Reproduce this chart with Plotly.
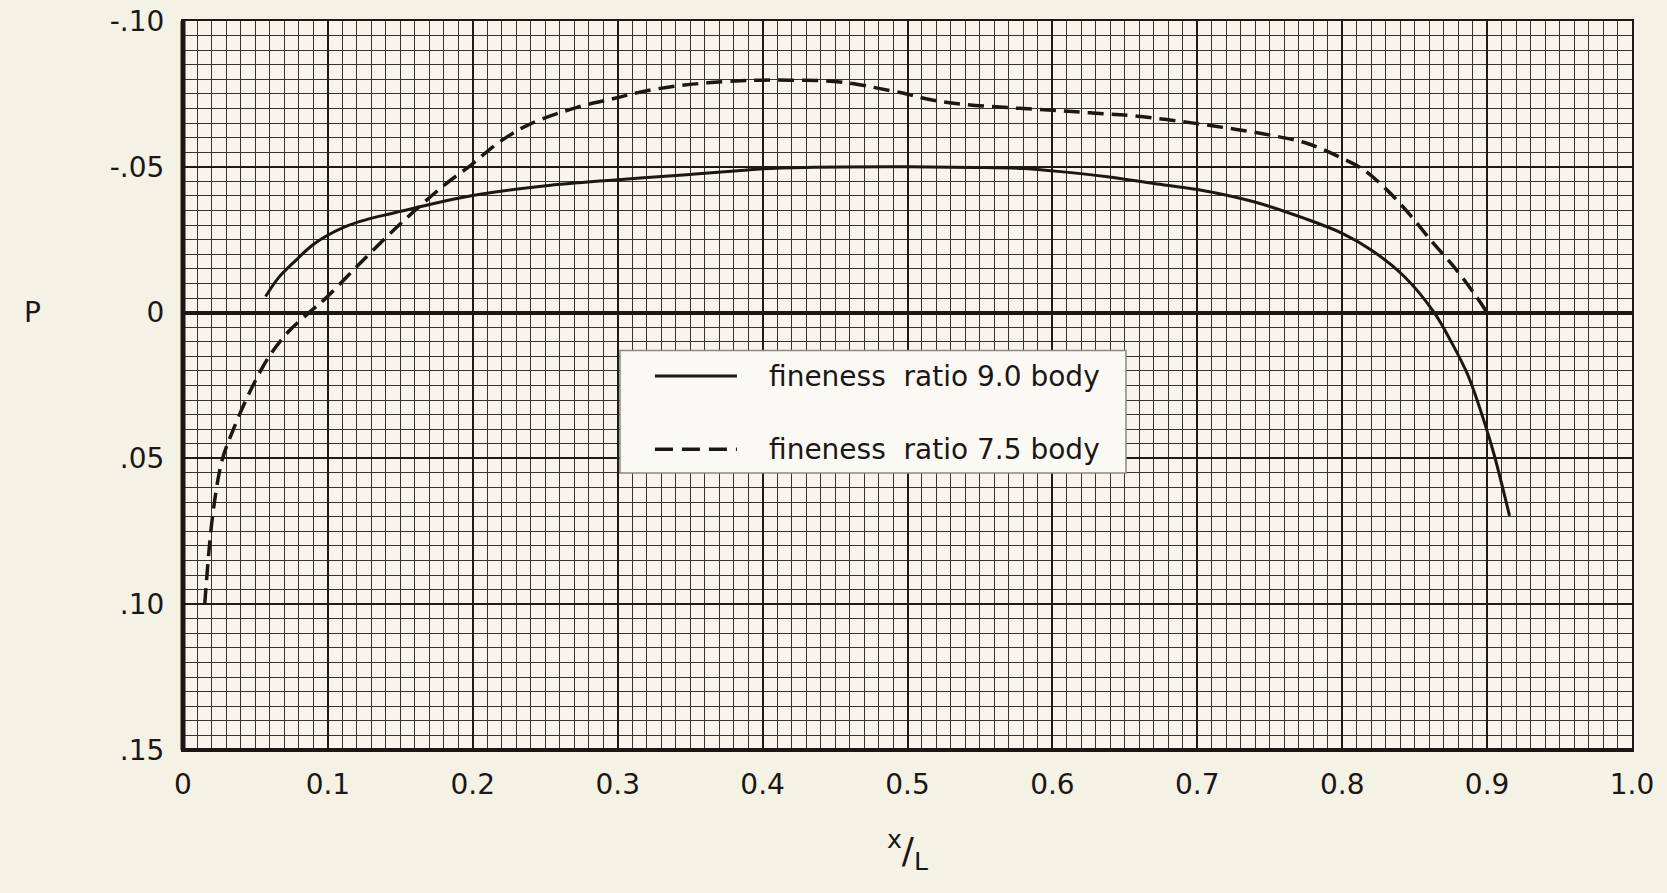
import plotly.graph_objects as go

# ---- data ----
x_fr90 = [0.057, 0.066, 0.078, 0.089, 0.098, 0.112, 0.126, 0.144, 0.165, 0.198, 0.249, 0.298,
          0.350, 0.385, 0.400, 0.430, 0.500, 0.546, 0.580, 0.600, 0.638, 0.670, 0.700, 0.739,
          0.774, 0.800, 0.820, 0.843, 0.8635, 0.875, 0.8866, 0.898, 0.905, 0.9155]
p_fr90 = [-0.0055, -0.012, -0.018, -0.023, -0.026, -0.0295, -0.0318, -0.0340, -0.0365, -0.040, -0.0434, -0.0455,
          -0.0474, -0.0487, -0.0493, -0.0498, -0.0500, -0.0498, -0.0494, -0.0486, -0.0466, -0.0443, -0.0422, -0.038,
          -0.0323, -0.0272, -0.0215, -0.0123, 0.000, 0.0098, 0.0213, 0.0374, 0.049, 0.0697]

x_fr75 = [0.015, 0.0206, 0.027, 0.034, 0.046, 0.0595, 0.073, 0.088, 0.098, 0.121, 0.146, 0.165,
          0.181, 0.199, 0.217, 0.238, 0.272, 0.298, 0.316, 0.339, 0.362, 0.385, 0.400, 0.419,
          0.442, 0.463, 0.481, 0.500, 0.516, 0.537, 0.569, 0.600, 0.626, 0.656, 0.700, 0.727,
          0.751, 0.776, 0.800, 0.815, 0.831, 0.847, 0.863, 0.877, 0.891, 0.900]
p_fr75 = [0.100, 0.069, 0.0506, 0.041, 0.0273, 0.015, 0.0064, -0.0004, -0.0047, -0.0163, -0.0286, -0.0372,
          -0.044, -0.0507, -0.058, -0.0643, -0.0704, -0.0735, -0.0757, -0.0776, -0.0788, -0.0795, -0.0797, -0.0797,
          -0.0795, -0.0785, -0.0768, -0.0749, -0.073, -0.0715, -0.0703, -0.0694, -0.0685, -0.0675, -0.0648, -0.0628,
          -0.0608, -0.058, -0.0529, -0.0489, -0.042, -0.0334, -0.0237, -0.0158, -0.0066, 0.000]

series_names = ["fineness\u00a0\u00a0ratio\u00a09.0\u00a0body", "fineness\u00a0\u00a0ratio\u00a07.5\u00a0body"]

x_tickvals = [0, 0.1, 0.2, 0.3, 0.4, 0.5, 0.6, 0.7, 0.8, 0.9, 1.0]
x_ticktext = ["0", "0.1", "0.2", "0.3", "0.4", "0.5", "0.6", "0.7", "0.8", "0.9", "1.0"]
y_tickvals = [-0.10, -0.05, 0.0, 0.05, 0.10, 0.15]
y_ticktext = ["-.10", "-.05", "0", ".05", ".10", ".15"]

INK = "#1c1714"
PAPER = "#f4f2e4"
FONT = "DejaVu Sans"

fig = go.Figure()
fig.add_trace(go.Scatter(x=x_fr90, y=p_fr90, mode="lines", name=series_names[0],
                         line=dict(color=INK, width=3, shape="spline", smoothing=1.0),
                         showlegend=False))
fig.add_trace(go.Scatter(x=x_fr75, y=p_fr75, mode="lines", name=series_names[1],
                         line=dict(color=INK, width=3.5, dash="16px,8px", shape="spline", smoothing=1.0),
                         showlegend=False))

fig.update_layout(
    width=1667, height=893,
    margin=dict(l=183, r=35, t=21, b=143, autoexpand=False),
    paper_bgcolor=PAPER,
    plot_bgcolor="#f8f4ed",
    font=dict(family=FONT, size=28, color=INK),
    showlegend=False,
)

fig.update_xaxes(
    range=[0, 1.0], tickvals=x_tickvals, ticktext=x_ticktext, automargin=False,
    showgrid=True, gridcolor="#1e1a14", gridwidth=2,
    minor=dict(dtick=0.01, tick0=0, showgrid=True, gridcolor="#35342a", gridwidth=1),
    showline=True, linecolor=INK, linewidth=2, mirror=True,
    zeroline=False, ticks="", ticklabelstandoff=8, ticklabeloverflow="allow",
    tickfont=dict(size=28),
    title=dict(text="<sup>x</sup>/<sub>L</sub>", font=dict(size=36), standoff=38),
)
fig.update_yaxes(
    range=[0.15, -0.10], tickvals=y_tickvals, ticktext=y_ticktext, automargin=False,
    showgrid=True, gridcolor="#1e1a14", gridwidth=2,
    minor=dict(dtick=0.005, tick0=0, showgrid=True, gridcolor="#35342a", gridwidth=1),
    showline=True, linecolor=INK, linewidth=2, mirror=True,
    zeroline=True, zerolinecolor=INK, zerolinewidth=3.5,
    ticks="", ticklabelstandoff=11, ticklabeloverflow="allow",
    tickfont=dict(size=28),
)

# heavier left and bottom frame lines
fig.add_shape(type="line", xref="paper", yref="paper", x0=0, x1=0, y0=0, y1=1,
              line=dict(color=INK, width=5))
fig.add_shape(type="line", xref="paper", yref="paper", x0=0, x1=1, y0=0, y1=0,
              line=dict(color=INK, width=4))

# y label "P"
fig.add_annotation(text="P", xref="paper", yref="y", x=-0.104, y=0, showarrow=False,
                   font=dict(size=28, family=FONT, color=INK), xanchor="center", yanchor="middle")

# legend box (drawn)
fig.add_shape(type="rect", xref="paper", yref="paper", x0=0.3016, x1=0.6508, y0=0.380, y1=0.548,
              fillcolor="#fbf9f4", line=dict(color="#8a8880", width=1.5), layer="above")
legend_rows = [0.5130, 0.4125]
legend_dash = ["solid", "18px,9px"]
for name, yy, dsh, w in zip(series_names, legend_rows, legend_dash, [3, 3.5]):
    fig.add_shape(type="line", xref="paper", yref="paper", x0=0.3257, x1=0.3823, y0=yy, y1=yy,
                  line=dict(color=INK, width=w, dash=dsh), layer="above")
    fig.add_annotation(text=name, xref="paper", yref="paper", x=0.4030, y=yy, showarrow=False,
                       xanchor="left", yanchor="middle", font=dict(size=28, family=FONT, color=INK))

fig.write_html("out.html",
               config={"displayModeBar": False},
               post_script=("document.body.style.margin='0';"
                            "document.body.style.background='%s';"
                            "document.body.style.overflow='hidden';" % PAPER))
